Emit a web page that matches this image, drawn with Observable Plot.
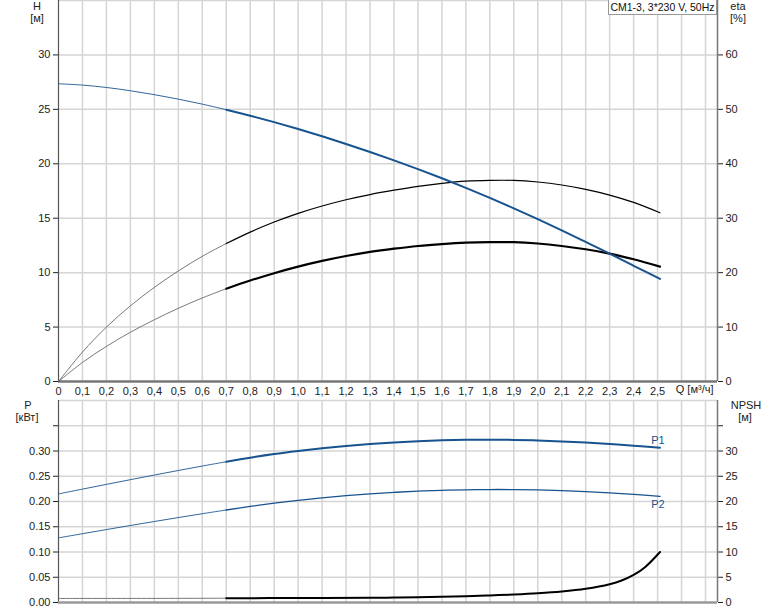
<!DOCTYPE html>
<html><head><meta charset="utf-8">
<script src="https://cdn.jsdelivr.net/npm/d3@7"></script>
<script src="https://cdn.jsdelivr.net/npm/@observablehq/plot@0.6"></script>
<style>
body{margin:0;background:#fff;font-family:"Liberation Sans",Arial,sans-serif;}
#wrap{position:relative;width:774px;height:611px;overflow:hidden;background:#fff;}
.lbl{position:absolute;font-size:11px;color:#222;text-align:center;line-height:12px;width:50px;}
#title{position:absolute;left:608px;top:0;width:107px;height:14px;border:1px solid #999;border-top:none;background:#fff;font-size:10.5px;line-height:14px;text-align:center;color:#111;white-space:nowrap;}
</style></head><body>
<div id="wrap">
  <div id="topChart" style="position:absolute;left:0;top:0"></div>
  <div id="botChart" style="position:absolute;left:0;top:398px"></div>
  <div class="lbl" style="left:12px;top:0px">H</div>
  <div class="lbl" style="left:12px;top:12px">[м]</div>
  <div class="lbl" style="left:713px;top:0px">eta</div>
  <div class="lbl" style="left:713px;top:12px">[%]</div>
  <div class="lbl" style="left:3px;top:399px">P</div>
  <div class="lbl" style="left:2px;top:411px">[кВт]</div>
  <div class="lbl" style="left:721px;top:399px">NPSH</div>
  <div class="lbl" style="left:720px;top:411px">[м]</div>
  <div id="title">CM1-3, 3*230 V, 50Hz</div>
</div>
<script>
// Flow Q [m³/h]
const q      = [0,0.1,0.2,0.3,0.4,0.5,0.6,0.7,0.8,0.9,1.0,1.1,1.2,1.3,1.4,1.5,1.6,1.7,1.8,1.9,2.0,2.1,2.2,2.3,2.4,2.51];
// Head H [m]
const head   = [27.35,27.23,27.01,26.71,26.35,25.94,25.48,24.97,24.42,23.83,23.2,22.53,21.82,21.08,20.31,19.51,18.67,17.79,16.87,15.91,14.91,13.88,12.82,11.75,10.63,9.43];
// Efficiency curves eta [%]
const etaHigh= [0,5.4,10.0,13.9,17.3,20.3,23.0,25.35,27.45,29.3,30.9,32.25,33.4,34.35,35.15,35.85,36.4,36.8,36.95,36.95,36.65,36.1,35.3,34.25,32.9,31.0];
const etaLow = [0,3.5,6.45,9.05,11.35,13.45,15.35,17.05,18.55,19.9,21.1,22.15,23.05,23.8,24.4,24.9,25.25,25.5,25.6,25.6,25.35,24.9,24.3,23.5,22.45,21.1];
// Power [kW]
const p1     = [0.215,0.2245,0.2339,0.2432,0.2524,0.2614,0.2702,0.2787,0.2868,0.294,0.3,0.3053,0.3099,0.3138,0.317,0.3195,0.3213,0.3223,0.3225,0.322,0.3208,0.319,0.3167,0.3138,0.3105,0.3065];
const p2     = [0.128,0.1362,0.1444,0.1525,0.1604,0.1682,0.1758,0.1832,0.1902,0.1966,0.2023,0.2073,0.2116,0.2152,0.2181,0.2204,0.2221,0.2232,0.2237,0.2236,0.2229,0.2216,0.2197,0.2172,0.2141,0.2102];
// NPSH [m]
const qNpsh  = [0,0.5,0.7,1.0,1.3,1.4,1.5,1.6,1.7,1.8,1.9,2.0,2.1,2.2,2.3,2.35,2.4,2.45,2.51];
const npsh   = [0.8,0.82,0.85,0.88,0.93,0.98,1.04,1.13,1.25,1.4,1.58,1.82,2.17,2.72,3.62,4.35,5.45,7.1,10.0];

const qTicks = [0,0.1,0.2,0.3,0.4,0.5,0.6,0.7,0.8,0.9,1.0,1.1,1.2,1.3,1.4,1.5,1.6,1.7,1.8,1.9,2.0,2.1,2.2,2.3,2.4,2.5];
const qGrid  = [0.1,0.2,0.3,0.4,0.5,0.6,0.7,0.8,0.9,1.0,1.1,1.2,1.3,1.4,1.5,1.6,1.7,1.8,1.9,2.0,2.1,2.2,2.3,2.4,2.5,2.6,2.7];
const hTicks = [0,5,10,15,20,25,30];
const etaTicks = [0,10,20,30,40,50,60];
const pTicks = [0,0.05,0.10,0.15,0.20,0.25,0.30,0.35];
const pTickLabels = ["0.00","0.05","0.10","0.15","0.20","0.25","0.30",""];
const npshTickLabels = ["0","5","10","15","20","25","30",""];
const hGrid = [5,10,15,20,25,30,35];
const pGrid = [0.05,0.10,0.15,0.20,0.25,0.30,0.35,0.40];

const BLUE = "#17538f";
const GRID = "#d5d5d5";
const font = {fontSize:"11px", fontFamily:"'Liberation Sans', Arial, sans-serif", color:"#222", background:"transparent", overflow:"visible"};

const rows = q.map((x,i)=>({q:x, h:head[i], eH:etaHigh[i]/2, eL:etaLow[i]/2, p1:p1[i], p2:p2[i]}));
const thin = rows.filter(r=>r.q<=0.7);
const thick = rows.filter(r=>r.q>=0.7);
const nRows = qNpsh.map((x,i)=>({q:x, n:npsh[i]/100}));
const nThin = nRows.filter(r=>r.q<=0.7);
const nThick = nRows.filter(r=>r.q>=0.7);
const fmtQ = d => d===0 ? "0" : d.toFixed(1).replace(".", ",");
const curve = "catmull-rom";

const topPlot = Plot.plot({
  width:774, height:400,
  marginTop:0, marginLeft:58, marginRight:57, marginBottom:19,
  style:font,
  x:{domain:[0,2.75]},
  y:{domain:[0,35]},
  marks:[
    Plot.ruleX(qGrid,{stroke:GRID, strokeWidth:1.5}),
    Plot.ruleY(hGrid,{stroke:GRID, strokeWidth:1.5}),
    Plot.axisX({ticks:qTicks, tickFormat:fmtQ, tickSize:0, tickPadding:6, label:null}),
    Plot.axisY({ticks:hTicks, tickSize:5, tickPadding:3, label:null, anchor:"left"}),
    Plot.axisY({ticks:etaTicks.map(e=>e/2), tickFormat:d=>String(d*2), tickSize:5, tickPadding:3, label:null, anchor:"right"}),
    Plot.ruleX([0],{stroke:"#555", strokeWidth:1.2}),
    Plot.ruleX([2.75],{stroke:"#777", strokeWidth:1.5}),
    Plot.ruleY([0],{stroke:"#777", strokeWidth:2.5}),
    Plot.line(thin,{x:"q", y:"eH", stroke:"#555", strokeWidth:0.8, curve}),
    Plot.line(thick,{x:"q", y:"eH", stroke:"#000", strokeWidth:1.2, curve}),
    Plot.line(thin,{x:"q", y:"eL", stroke:"#555", strokeWidth:0.8, curve}),
    Plot.line(thick,{x:"q", y:"eL", stroke:"#000", strokeWidth:2.2, curve}),
    Plot.line(thin,{x:"q", y:"h", stroke:BLUE, strokeWidth:0.9, curve}),
    Plot.line(thick,{x:"q", y:"h", stroke:BLUE, strokeWidth:2, curve}),
    Plot.text(["Q [м³/ч]"],{frameAnchor:"bottom-right", textAnchor:"end", dx:-4, dy:11, fill:"#222", fontSize:11})
  ]
});
document.getElementById("topChart").appendChild(topPlot);

const last = rows[rows.length-1];
const botPlot = Plot.plot({
  width:774, height:213,
  marginTop:2, marginLeft:58, marginRight:57, marginBottom:9,
  style:font,
  x:{domain:[0,2.75], axis:null},
  y:{domain:[0,0.4]},
  marks:[
    Plot.ruleX(qGrid,{stroke:GRID, strokeWidth:1.5}),
    Plot.ruleY(pGrid,{stroke:GRID, strokeWidth:1.5}),
    Plot.axisY({ticks:pTicks, tickFormat:(d,i)=>pTickLabels[i], tickSize:5, tickPadding:3, label:null, anchor:"left"}),
    Plot.axisY({ticks:pTicks, tickFormat:(d,i)=>npshTickLabels[i], tickSize:5, tickPadding:3, label:null, anchor:"right"}),
    Plot.ruleX([0],{stroke:"#555", strokeWidth:1.2}),
    Plot.ruleX([2.75],{stroke:"#777", strokeWidth:1.5}),
    Plot.ruleY([0],{stroke:"#999", strokeWidth:2.5}),
    Plot.line(thin,{x:"q", y:"p1", stroke:BLUE, strokeWidth:0.9, curve}),
    Plot.line(thick,{x:"q", y:"p1", stroke:BLUE, strokeWidth:2, curve}),
    Plot.line(thin,{x:"q", y:"p2", stroke:BLUE, strokeWidth:0.9, curve}),
    Plot.line(thick,{x:"q", y:"p2", stroke:BLUE, strokeWidth:1.3, curve}),
    Plot.line(nThin,{x:"q", y:"n", stroke:"#777", strokeWidth:1, curve}),
    Plot.line(nThick,{x:"q", y:"n", stroke:"#000", strokeWidth:2, curve}),
    Plot.text([last],{x:"q", y:"p1", text:()=>"P1", dx:-2, dy:-7, fill:BLUE, fontSize:11}),
    Plot.text([last],{x:"q", y:"p2", text:()=>"P2", dx:-2, dy:8, fill:BLUE, fontSize:11})
  ]
});
document.getElementById("botChart").appendChild(botPlot);
</script>
</body></html>
